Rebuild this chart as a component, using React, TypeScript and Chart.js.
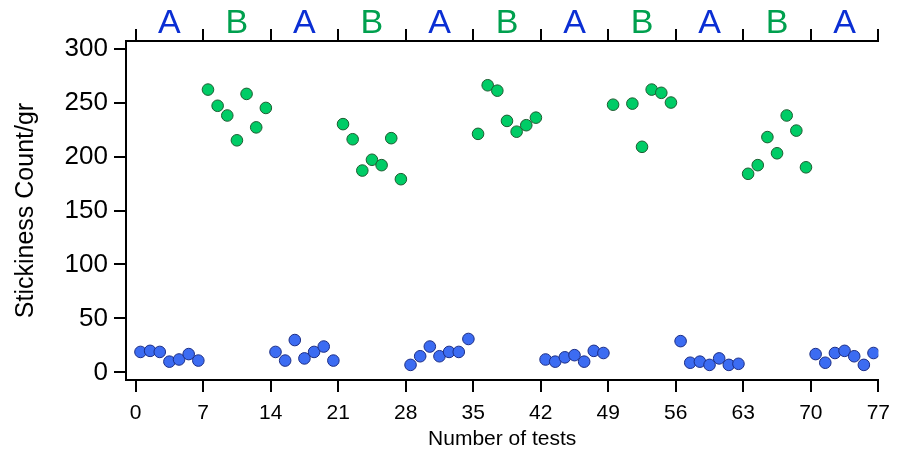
import React, { useEffect, useRef } from "react";
import { Chart, registerables } from "chart.js";

Chart.register(...registerables);

// Values of each group of 7 tests (A = blue, B = green)
const groupA1 = [19, 20, 19, 10, 12, 17, 11];
const groupB1 = [262, 247, 238, 215, 258, 227, 245];
const groupA2 = [19, 11, 30, 13, 19, 24, 11];
const groupB2 = [230, 216, 187, 197, 192, 217, 179];
const groupA3 = [7, 15, 24, 15, 19, 19, 31];
const groupB3 = [221, 266, 261, 233, 223, 229, 236];
const groupA4 = [12, 10, 14, 16, 10, 20, 18];
const groupB4 = [248, null, 249, 209, 262, 259, 250];
const groupA5 = [29, 9, 10, 7, 13, 7, 8];
const groupB5 = [184, 192, 218, 203, 238, 224, 190];
const groupA6 = [17, 9, 18, 20, 15, 7, 18];

const groupOrder = ["A", "B", "A", "B", "A", "B", "A", "B", "A", "B", "A"];
const groupValues = [
  groupA1, groupB1, groupA2, groupB2, groupA3, groupB3,
  groupA4, groupB4, groupA5, groupB5, groupA6,
];

const xTicks = [0, 7, 14, 21, 28, 35, 42, 49, 56, 63, 70, 77];
const yTicks = [0, 50, 100, 150, 200, 250, 300];
const topTickValues = [0, 3.5, 7, 10.5, 14, 17.5, 21, 24.5, 28, 31.5, 35, 38.5, 42, 45.5, 49, 52.5, 56, 59.5, 63, 66.5, 70, 73.5, 77];

const FONT = "'Liberation Sans', Arial, sans-serif";
const BLUE_TEXT = "#0b2fd4";
const GREEN_TEXT = "#00a04e";

function buildPoints(label: string) {
  const pts: { x: number; y: number }[] = [];
  groupValues.forEach((vals, g) => {
    if (groupOrder[g] !== label) return;
    vals.forEach((v, i) => {
      if (v === null) return;
      pts.push({ x: g * 7 + i + 0.5, y: v });
    });
  });
  return pts;
}

export default function App() {
  const ref = useRef<HTMLCanvasElement | null>(null);

  useEffect(() => {
    document.body.style.margin = "0";
    const canvas = ref.current;
    if (!canvas) return;
    const chart = new Chart(canvas, {
      type: "scatter",
      data: {
        datasets: [
          {
            label: "A",
            data: buildPoints("A"),
            backgroundColor: "#3c6cf2",
            borderColor: "#1b2d86",
            borderWidth: 1,
            pointRadius: 5.8,
          },
          {
            label: "B",
            data: buildPoints("B"),
            backgroundColor: "#00cc66",
            borderColor: "#1d5c31",
            borderWidth: 1,
            pointRadius: 5.8,
          },
        ],
      },
      options: {
        animation: false,
        responsive: false,
        layout: { padding: { right: 12, left: 0, top: 0, bottom: 0 } },
        plugins: {
          legend: { display: false },
          tooltip: { enabled: false },
        },
        scales: {
          x: {
            type: "linear",
            position: "bottom",
            min: -1,
            max: 77,
            afterBuildTicks: (axis: any) => {
              axis.ticks = xTicks.map((v) => ({ value: v }));
            },
            afterFit: (scale: any) => {
              scale.height = 72;
            },
            grid: {
              display: true,
              drawOnChartArea: false,
              drawTicks: true,
              tickLength: 12,
              color: "#000",
              lineWidth: 2,
            },
            border: { display: true, color: "#000", width: 2 },
            ticks: {
              color: "#000",
              padding: 9,
              maxRotation: 0,
              autoSkip: false,
              font: { family: FONT, size: 21 },
            },
            title: {
              display: true,
              text: "Number of tests",
              color: "#000",
              font: { family: FONT, size: 21 },
              padding: { top: 0, bottom: 0 },
            },
          },
          xTop: {
            type: "linear",
            position: "top",
            min: -1,
            max: 77,
            afterBuildTicks: (axis: any) => {
              axis.ticks = topTickValues.map((v) => ({ value: v }));
            },
            afterFit: (scale: any) => {
              scale.height = 41;
            },
            grid: {
              display: true,
              drawOnChartArea: false,
              drawTicks: true,
              tickLength: 12,
              color: (ctx: any) =>
                ctx.tick && ctx.tick.value % 7 === 0 ? "#000" : "rgba(0,0,0,0)",
              lineWidth: 2,
            },
            border: { display: true, color: "#000", width: 2 },
            ticks: {
              padding: -15,
              maxRotation: 0,
              autoSkip: false,
              font: { family: FONT, size: 34 },
              color: (ctx: any) =>
                groupOrder[Math.floor(ctx.tick.value / 7)] === "A" ? BLUE_TEXT : GREEN_TEXT,
              callback: (value: any) => {
                const v = Number(value);
                if (v % 7 === 0) return "";
                return groupOrder[Math.floor(v / 7)];
              },
            },
          },
          y: {
            type: "linear",
            position: "left",
            min: -7,
            max: 307,
            afterBuildTicks: (axis: any) => {
              axis.ticks = yTicks.map((v) => ({ value: v }));
            },
            afterFit: (scale: any) => {
              scale.width = 126;
            },
            grid: {
              display: true,
              drawOnChartArea: false,
              drawTicks: true,
              tickLength: 12,
              color: "#000",
              lineWidth: 2,
            },
            border: { display: true, color: "#000", width: 2 },
            ticks: {
              color: "#000",
              padding: 6,
              font: { family: FONT, size: 26 },
            },
            title: {
              display: true,
              text: "Stickiness Count/gr",
              color: "#000",
              font: { family: FONT, size: 25 },
              padding: { top: 11, bottom: 0 },
            },
          },
        },
      } as any,
    });
    return () => chart.destroy();
  }, []);

  return (
    <div style={{ position: "fixed", left: 0, top: 0, width: 899, height: 452 }}>
      <canvas ref={ref} width={899} height={452} />
    </div>
  );
}
